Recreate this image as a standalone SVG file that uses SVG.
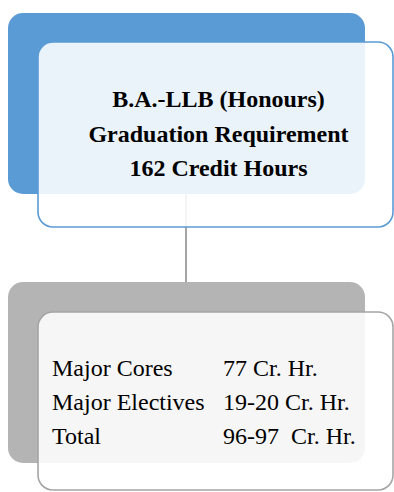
<svg xmlns="http://www.w3.org/2000/svg" width="394" height="492" viewBox="0 0 394 492">
<style>
.t{font-family:"Liberation Serif","Times New Roman",serif;font-size:24px;fill:#000}
.b{font-weight:bold;text-anchor:middle}
.front{stroke-width:1.6}
</style>
<rect width="394" height="492" fill="#fff"/>
<g id="connectors">
<line x1="186" y1="194" x2="186" y2="283" stroke="#A5A5A5" stroke-width="2"/>
</g>
<g id="node-top">
<rect x="8" y="13" width="357" height="181" rx="15" fill="#5B9BD5"/>
<rect class="front" x="38" y="42" width="355" height="185" rx="15" fill="#fff" fill-opacity="0.88" stroke="#5B9BD5"/>
<text class="t b" x="218.5" y="107">B.A.-LLB (Honours)</text>
<text class="t b" x="218.5" y="142">Graduation Requirement</text>
<text class="t b" x="218.5" y="176">162 Credit Hours</text>
</g>
<g id="node-bottom">
<rect x="8" y="282" width="357" height="181" rx="15" fill="#B4B4B4"/>
<rect class="front" x="38" y="312" width="355" height="178" rx="15" fill="#fff" fill-opacity="0.88" stroke="#A5A5A5"/>
<text class="t" x="52" y="376">Major Cores</text>
<text class="t" x="223" y="376">77 Cr. Hr.</text>
<text class="t" x="52" y="410">Major Electives</text>
<text class="t" x="223" y="410">19-20 Cr. Hr.</text>
<text class="t" x="52" y="444">Total</text>
<text class="t" x="223" y="444" xml:space="preserve">96-97  Cr. Hr.</text>
</g>
</svg>
